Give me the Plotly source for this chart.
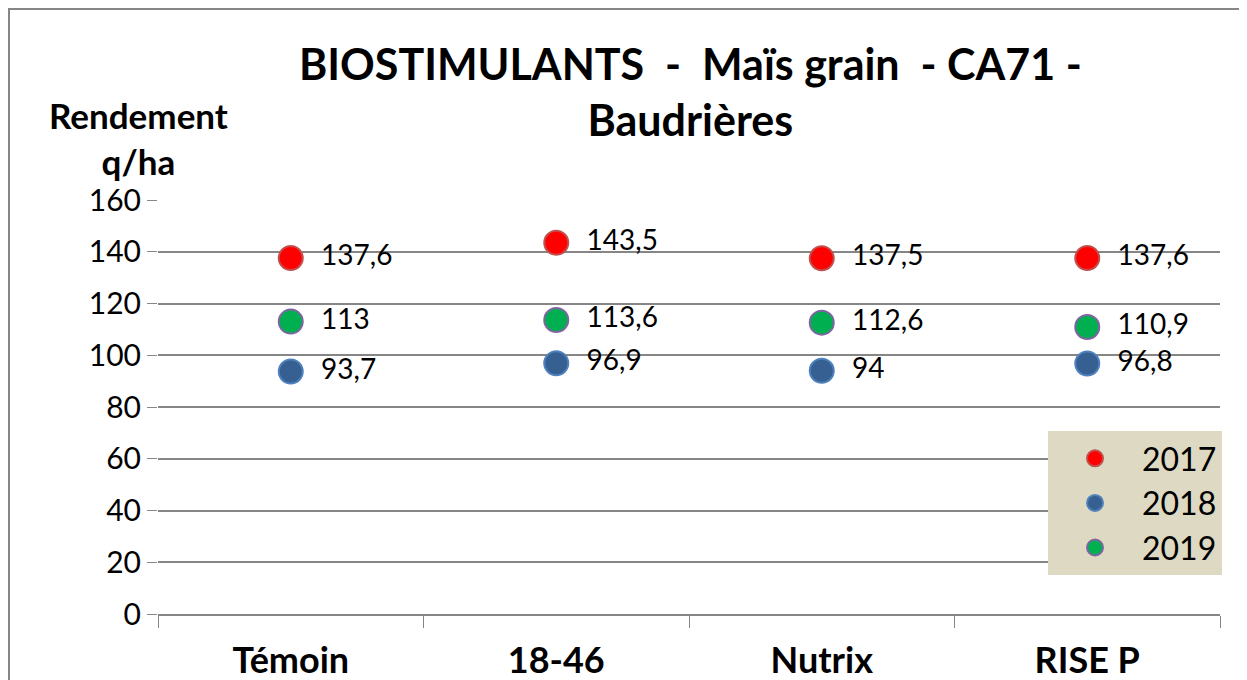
import plotly.graph_objects as go

categories = ["Témoin", "18-46", "Nutrix", "RISE P"]
years = ["2017", "2018", "2019"]
v2017 = [137.6, 143.5, 137.5, 137.6]
v2018 = [93.7, 96.9, 94, 96.8]
v2019 = [113, 113.6, 112.6, 110.9]
y_ticks = [0, 20, 40, 60, 80, 100, 120, 140, 160]

FONT = "Lato"
series = [
    ("2017", v2017, "#FF0000", "#C0504D"),
    ("2018", v2018, "#376092", "#4F81BD"),
    ("2019", v2019, "#00B050", "#8064A2"),
]

def fmt(v):
    s = ("%g" % v).replace(".", ",")
    return "  " + s

fig = go.Figure()
for name, vals, fill, line in series:
    fig.add_trace(go.Scatter(
        x=categories, y=vals, name=name, mode="markers+text",
        text=[fmt(v) for v in vals], textposition="middle right",
        textfont=dict(family=FONT, size=28, color="black"),
        marker=dict(size=24, color=fill, line=dict(color=line, width=2)),
        cliponaxis=False,
    ))

# page offset of the figure (body margin)
OFF = 8
W, H = 1247 - OFF, 680 - OFF
L = 158 - OFF
T = 200 - OFF
R = W - (1220 - OFF)
B = H - (614 - OFF)
pw, ph = W - L - R, H - T - B

def px(x):  # page x -> paper
    return (x - OFF - L) / pw

def py(y):  # page y -> paper
    return (H - B - (y - OFF)) / ph

fig.update_layout(
    width=W, height=H,
    margin=dict(l=L, r=R, t=T, b=B, autoexpand=False),
    paper_bgcolor="white", plot_bgcolor="white",
    font=dict(family=FONT, color="black"),
    showlegend=True,
    legend=dict(
        x=px(1048), y=py(431), xanchor="left", yanchor="top",
        bgcolor="#DDD9C3", font=dict(family=FONT, size=32, color="black"),
        itemsizing="trace", itemwidth=84, tracegroupgap=0,
    ),
    xaxis=dict(
        type="category", range=[-0.5, 3.5], automargin=False,
        showgrid=False, showline=True, linecolor="#868686", linewidth=2,
        ticks="outside", tickson="boundaries", ticklen=12, tickcolor="#868686", tickwidth=1,
        tickfont=dict(family=FONT, size=36, color="black"),
        tickprefix="<b>", ticksuffix="</b>", ticklabelstandoff=14,
        zeroline=False,
    ),
    yaxis=dict(
        range=[0, 160], tickvals=y_ticks, automargin=False,
        showgrid=True, gridcolor="#868686", gridwidth=2,
        showline=False, zeroline=False,
        ticks="outside", ticklen=10, tickcolor="#868686", tickwidth=1,
        tickfont=dict(family=FONT, size=30, color="black"),
    ),
    annotations=[
        dict(text="<b>BIOSTIMULANTS  -  Maïs grain  - CA71 -<br>Baudrières</b>",
             xref="paper", yref="paper", x=px(690), y=py(92),
             xanchor="center", yanchor="middle", showarrow=False,
             font=dict(family=FONT, size=43, color="black")),
        dict(text="<b>Rendement<br>q/ha</b>", xref="paper", yref="paper",
             x=px(138), y=py(138), xanchor="center", yanchor="middle",
             showarrow=False, font=dict(family=FONT, size=35, color="black")),
    ],
    shapes=[
        dict(type="rect", xref="paper", yref="paper",
             x0=px(9), x1=px(1245), y0=py(700), y1=py(9),
             line=dict(color="#868686", width=2), fillcolor="rgba(0,0,0,0)", layer="below"),
    ],
)

fig.write_html("out.html")
